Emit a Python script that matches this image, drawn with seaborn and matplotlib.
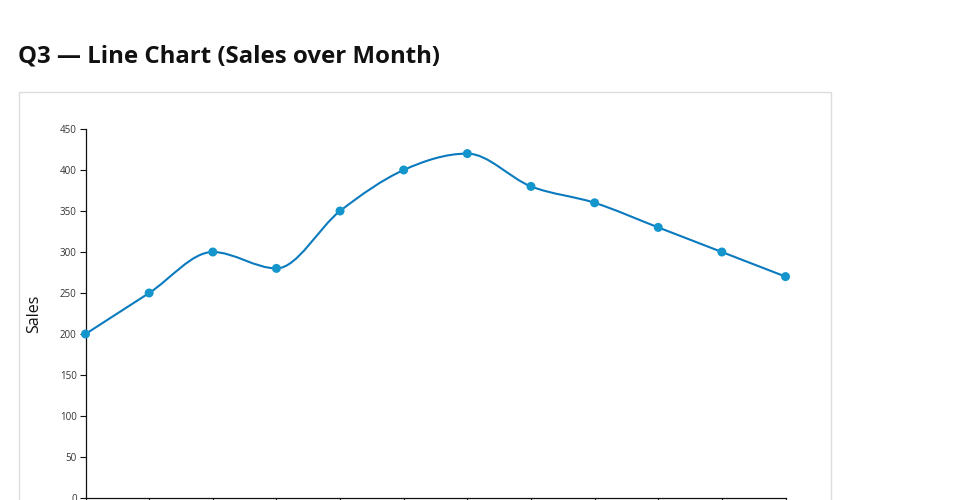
import numpy as np
import pandas as pd
import seaborn as sns
import matplotlib
matplotlib.use("Agg")
import matplotlib.pyplot as plt
from matplotlib.path import Path
from matplotlib.patches import PathPatch, Rectangle

months = ["Jan", "Feb", "Mar", "Apr", "May", "Jun", "Jul", "Aug", "Sep", "Oct", "Nov", "Dec"]
sales = [200, 250, 300, 280, 350, 400, 420, 380, 360, 330, 300, 270]
y_ticks = [0, 50, 100, 150, 200, 250, 300, 350, 400, 450]

sns.set_theme(style="white")
plt.rcParams["font.family"] = ["Open Sans", "DejaVu Sans"]

W, H = 960, 500
fig = plt.figure(figsize=(W / 100, H / 100), dpi=100)

# panel frame
fig.patches.append(Rectangle((18.5 / W, -0.1), (831 - 18.5) / W, (H - 91.5) / H + 0.1,
                             transform=fig.transFigure, fill=False,
                             edgecolor="#dddddd", linewidth=1.0))

fig.text(18.5 / W, 1 - 56 / H, "Q3 — Line Chart (Sales over Month)", fontsize=17.3,
         fontweight="bold", ha="left", va="center", color="#111111")

x0, x1 = 85.5, 785.5
ytop, ybot = 129, 498
ax = fig.add_axes([x0 / W, 1 - ybot / H, (x1 - x0) / W, (ybot - ytop) / H])

df = pd.DataFrame({"idx": np.arange(len(months)), "Month": months, "Sales": sales})

# monotone-X cubic (d3 curveMonotoneX) as Bezier path
xs = df["idx"].to_numpy(float)
ys = df["Sales"].to_numpy(float)
n = len(xs)
h = np.diff(xs)
s = np.diff(ys) / h
m = np.zeros(n)
for i in range(1, n - 1):
    h0, h1 = h[i - 1], h[i]
    s0, s1 = s[i - 1], s[i]
    p = (s0 * h1 + s1 * h0) / (h0 + h1)
    m[i] = (np.sign(s0) + np.sign(s1)) * min(abs(s0), abs(s1), 0.5 * abs(p))
m[0] = (3 * s[0] - m[1]) / 2
m[-1] = (3 * s[-1] - m[-2]) / 2
verts = [(xs[0], ys[0])]
codes = [Path.MOVETO]
for i in range(n - 1):
    dx = (xs[i + 1] - xs[i]) / 3
    verts += [(xs[i] + dx, ys[i] + dx * m[i]),
              (xs[i + 1] - dx, ys[i + 1] - dx * m[i + 1]),
              (xs[i + 1], ys[i + 1])]
    codes += [Path.CURVE4] * 3
ax.add_patch(PathPatch(Path(verts, codes), fill=False, edgecolor="#0a7abf",
                       linewidth=1.5, clip_on=False, zorder=2))

sns.scatterplot(data=df, x="idx", y="Sales", ax=ax, color="#1496cc", s=42,
                edgecolor="none", zorder=3, clip_on=False, legend=False)

ax.set_xlim(0, n - 1)
ax.set_ylim(0, 450)
ax.set_xticks(df["idx"])
ax.set_xticklabels([])  # month labels fall below the visible canvas in the reference
ax.set_yticks(y_ticks)
ax.set_yticklabels([str(v) for v in y_ticks])
ax.set_xlabel("")
ax.set_ylabel("Sales", fontsize=11.5, color="#111111", labelpad=12.5)
ax.tick_params(axis="both", length=4.3, width=0.8, color="#111111",
               labelsize=7, labelcolor="#333333", pad=2, left=True, bottom=True)
for side in ["top", "right"]:
    ax.spines[side].set_visible(False)
for side in ["left", "bottom"]:
    ax.spines[side].set_color("#111111")
    ax.spines[side].set_linewidth(0.9)
ax.set_facecolor("none")

fig.savefig("out.png", dpi=100)
